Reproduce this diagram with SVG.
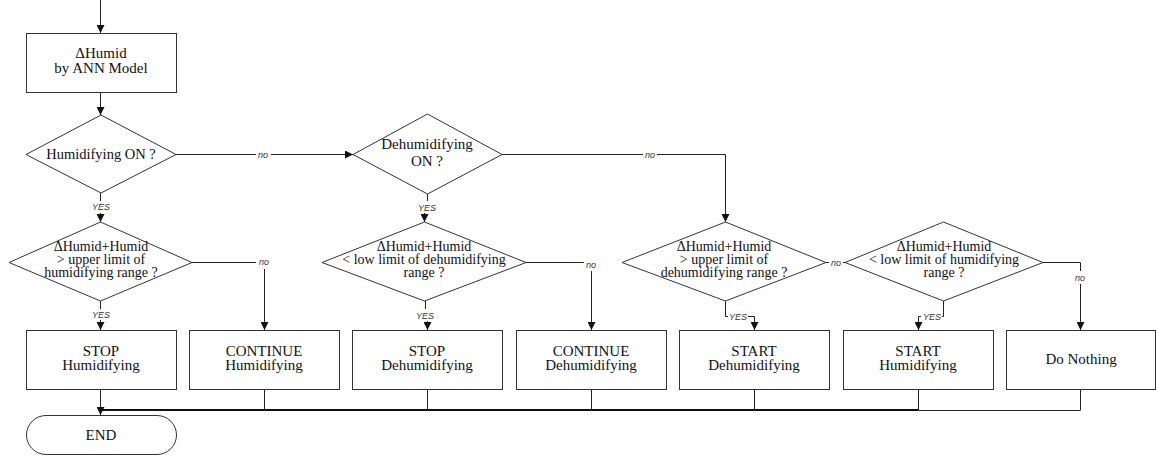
<svg xmlns="http://www.w3.org/2000/svg" width="1156" height="456" viewBox="0 0 1156 456">
  <defs>
    <marker id="arrow" markerUnits="userSpaceOnUse" markerWidth="8" markerHeight="8" refX="8" refY="4" orient="auto">
      <path d="M0,0 L8,4 L0,8 z" fill="#111"/>
    </marker>
    <style>
      .shape { fill: #fff; stroke: #333; stroke-width: 1; }
      .ln { fill: none; stroke: #222; stroke-width: 1; }
      .arr { fill: none; stroke: #222; stroke-width: 1; marker-end: url(#arrow); }
      .bus { fill: none; stroke: #111; stroke-width: 2; }
      .t { font-family: "Liberation Serif", "Times New Roman", serif; font-size: 15px; text-anchor: middle; fill: #111; }
      .dt { font-family: "Liberation Serif", "Times New Roman", serif; font-size: 14px; text-anchor: middle; fill: #111; }
      .lbl { font-family: "Liberation Sans", Arial, sans-serif; font-style: italic; font-size: 9px; text-anchor: middle; fill: #333; }
    </style>
  </defs>
  <rect width="1156" height="456" fill="#fff"/>

  <!-- connectors -->
  <g id="connectors">
    <path class="arr" d="M100.5,0 V33"/>
    <path class="arr" d="M100.5,92 V115"/>
    <!-- Humidifying ON ? : no -->
    <path class="ln" d="M176,154.5 H256"/>
    <path class="arr" d="M271,154.5 H353"/>
    <text class="lbl" x="263" y="157.5">no</text>
    <!-- Humidifying ON ? : YES -->
    <path class="ln" d="M100.5,193 V201"/>
    <text class="lbl" x="101" y="210">YES</text>
    <path class="arr" d="M100.5,213 V222"/>
    <!-- upper limit of humidifying : YES / no -->
    <path class="ln" d="M100.5,301 V309"/>
    <text class="lbl" x="101" y="318">YES</text>
    <path class="arr" d="M100.5,320 V330"/>
    <path class="ln" d="M192,262.5 H256"/>
    <text class="lbl" x="264" y="265">no</text>
    <path class="arr" d="M264.5,269 V330"/>
    <!-- Dehumidifying ON ? : YES / no -->
    <path class="ln" d="M427.5,194 V201"/>
    <text class="lbl" x="427" y="211">YES</text>
    <path class="arr" d="M424.5,213 V222"/>
    <path class="ln" d="M502,154.5 H643"/>
    <path class="arr" d="M657,154.5 H725.5 V222"/>
    <text class="lbl" x="650" y="157.5">no</text>
    <!-- low limit of dehumidifying : YES / no -->
    <path class="ln" d="M425.5,301 V309"/>
    <text class="lbl" x="425" y="319">YES</text>
    <path class="arr" d="M427.5,321 V330"/>
    <path class="ln" d="M526,262.5 H584"/>
    <text class="lbl" x="591" y="268">no</text>
    <path class="arr" d="M591.5,271 V330"/>
    <!-- upper limit of dehumidifying : YES / no -->
    <path class="ln" d="M725.5,301 V316.5 H728"/>
    <text class="lbl" x="738" y="320">YES</text>
    <path class="arr" d="M748,316.5 H754.5 V330"/>
    <path class="ln" d="M826,262.5 H829"/>
    <text class="lbl" x="836" y="265.5">no</text>
    <path class="ln" d="M843,262.5 H845"/>
    <!-- low limit of humidifying : YES / no -->
    <path class="ln" d="M943.5,301 V316.5 H942"/>
    <text class="lbl" x="932" y="320">YES</text>
    <path class="arr" d="M921,316.5 H918.5 V330"/>
    <path class="ln" d="M1043,262.5 H1080.5 V271"/>
    <text class="lbl" x="1080" y="281">no</text>
    <path class="arr" d="M1080.5,284 V330"/>
    <!-- merge into END -->
    <path class="ln" d="M264.5,389 V410 M427.5,389 V410 M591.5,389 V410 M754.5,389 V410 M918.5,389 V410 M1080.5,389 V410"/>
    <path class="bus" d="M100.5,410 H918.5"/>
    <path class="ln" d="M918.5,410.5 H1080.5"/>
    <path class="arr" d="M100.5,389 V415"/>
  </g>

  <!-- process: prediction -->
  <g id="predict">
    <rect class="shape" x="26.5" y="33.5" width="150" height="59"/>
    <text class="t" x="101" y="58">ΔHumid</text>
    <text class="t" x="101" y="73">by ANN Model</text>
  </g>

  <!-- decisions -->
  <g id="humidifying-on">
    <polygon class="shape" points="101,115 176,154.5 101,193 26,154.5"/>
    <text class="t" x="101" y="159" style="font-size:14.5px">Humidifying ON ?</text>
  </g>
  <g id="dehumidifying-on">
    <polygon class="shape" points="427.5,114 502,154.5 427.5,194 353,154.5"/>
    <text class="t" x="427" y="149">Dehumidifying</text>
    <text class="t" x="427" y="166">ON ?</text>
  </g>
  <g id="over-humidifying-range">
    <polygon class="shape" points="100.5,222 192,262.5 100.5,301 9,262.5"/>
    <text class="dt" x="101" y="251">ΔHumid+Humid</text>
    <text class="dt" x="101" y="264">&gt; upper limit of</text>
    <text class="dt" x="101" y="277">humidifying range ?</text>
  </g>
  <g id="under-dehumidifying-range">
    <polygon class="shape" points="424.5,222 526,262.5 424.5,301 322,262.5"/>
    <text class="dt" x="424" y="251">ΔHumid+Humid</text>
    <text class="dt" x="424" y="264">&lt; low limit of dehumidifying</text>
    <text class="dt" x="424" y="277">range ?</text>
  </g>
  <g id="over-dehumidifying-range">
    <polygon class="shape" points="725.5,222 826,262.5 725.5,301 622,262.5"/>
    <text class="dt" x="724" y="251">ΔHumid+Humid</text>
    <text class="dt" x="724" y="264">&gt; upper limit of</text>
    <text class="dt" x="724" y="277">dehumidifying range ?</text>
  </g>
  <g id="under-humidifying-range">
    <polygon class="shape" points="943.5,222 1043,262.5 943.5,301 845,262.5"/>
    <text class="dt" x="944" y="251">ΔHumid+Humid</text>
    <text class="dt" x="944" y="264">&lt; low limit of humidifying</text>
    <text class="dt" x="944" y="277">range ?</text>
  </g>

  <!-- actions -->
  <g id="stop-humidifying">
    <rect class="shape" x="26.5" y="330.5" width="150" height="59"/>
    <text class="t" x="101" y="356">STOP</text>
    <text class="t" x="101" y="370">Humidifying</text>
  </g>
  <g id="continue-humidifying">
    <rect class="shape" x="189.5" y="330.5" width="150" height="59"/>
    <text class="t" x="264" y="356">CONTINUE</text>
    <text class="t" x="264" y="370">Humidifying</text>
  </g>
  <g id="stop-dehumidifying">
    <rect class="shape" x="352.5" y="330.5" width="150" height="59"/>
    <text class="t" x="427" y="356">STOP</text>
    <text class="t" x="427" y="370">Dehumidifying</text>
  </g>
  <g id="continue-dehumidifying">
    <rect class="shape" x="516.5" y="330.5" width="150" height="59"/>
    <text class="t" x="591" y="356">CONTINUE</text>
    <text class="t" x="591" y="370">Dehumidifying</text>
  </g>
  <g id="start-dehumidifying">
    <rect class="shape" x="679.5" y="330.5" width="150" height="59"/>
    <text class="t" x="754" y="356">START</text>
    <text class="t" x="754" y="370">Dehumidifying</text>
  </g>
  <g id="start-humidifying">
    <rect class="shape" x="843.5" y="330.5" width="150" height="59"/>
    <text class="t" x="918" y="356">START</text>
    <text class="t" x="918" y="370">Humidifying</text>
  </g>
  <g id="do-nothing">
    <rect class="shape" x="1006.5" y="330.5" width="149" height="59"/>
    <text class="t" x="1081" y="364">Do Nothing</text>
  </g>

  <!-- terminator -->
  <g id="end">
    <rect class="shape" x="26.5" y="415.5" width="150" height="39" rx="19.5" ry="19.5"/>
    <text class="t" x="101" y="440">END</text>
  </g>
</svg>
